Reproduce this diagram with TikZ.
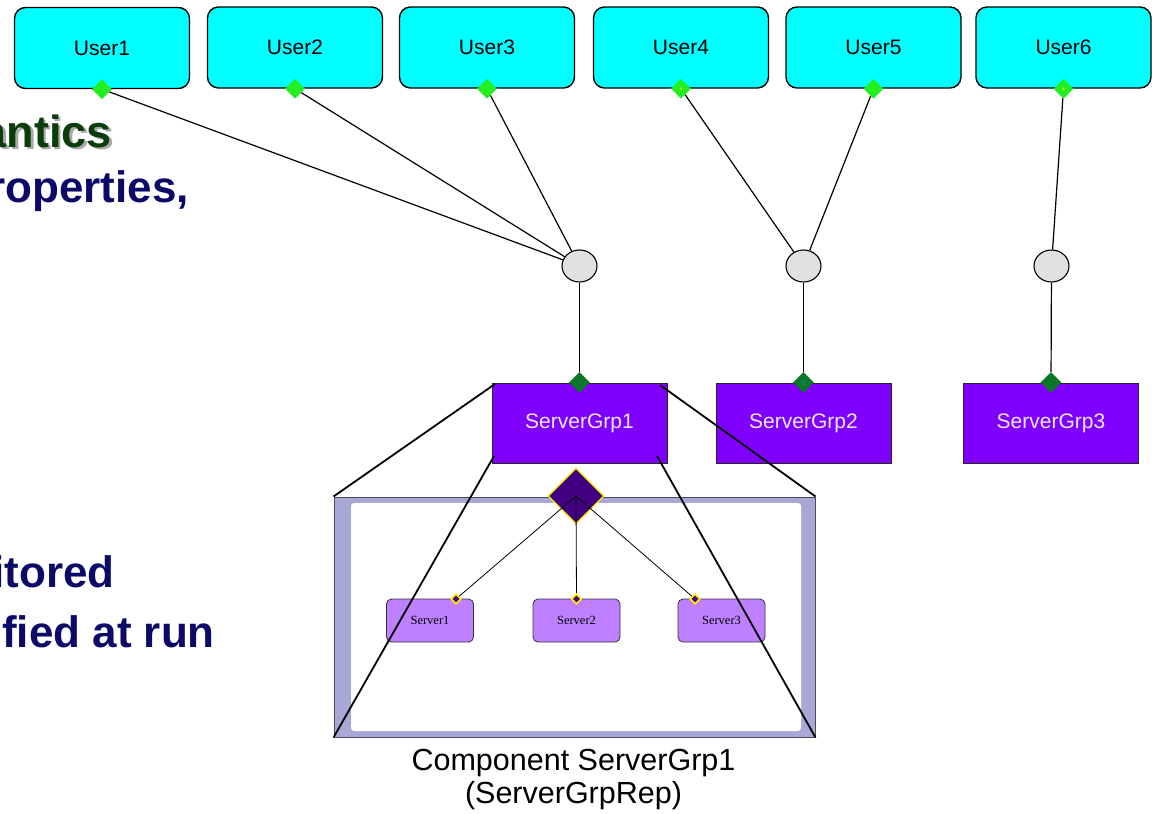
\documentclass[tikz,border=0pt]{standalone}
\usepackage{fontspec}
\setmainfont{Liberation Sans}
\newfontfamily\serverfont{Liberation Serif}
\usetikzlibrary{shapes.geometric}

\definecolor{usercyan}{HTML}{00FFFF}
\definecolor{portgreen}{HTML}{22EE22}
\definecolor{portdot}{HTML}{B8E000}
\definecolor{grpviolet}{HTML}{7F00FF}
\definecolor{grpport}{HTML}{0A7826}
\definecolor{grpportin}{HTML}{137A55}
\definecolor{grptext}{HTML}{F0E8FF}
\definecolor{conngray}{HTML}{E0E0E0}
\definecolor{framefill}{HTML}{A8A8D6}
\definecolor{framedraw}{HTML}{4A4A5A}
\definecolor{repindigo}{HTML}{400080}
\definecolor{serverlilac}{HTML}{BF80FF}
\definecolor{navytext}{HTML}{0C0A68}
\definecolor{greentext}{HTML}{0B3D0B}
\definecolor{shadowgray}{HTML}{A8A8A8}

\tikzset{
  userbox/.style={draw=black, line width=1.4pt, fill=usercyan, rounded corners=11pt,
    minimum width=175pt, minimum height=81pt, inner sep=0pt,
    font=\fontsize{21}{25}\selectfont},
  userport/.style={diamond, fill=portgreen, minimum size=20pt, inner sep=0pt},
  conn/.style={ellipse, draw=black, line width=1.1pt, fill=conngray,
    minimum width=35pt, minimum height=32pt, inner sep=0pt},
  grpbox/.style={draw=black!85, line width=1pt, fill=grpviolet, text=grptext,
    minimum width=175pt, minimum height=80pt, inner sep=0pt,
    font=\fontsize{21}{25}\selectfont},
  grpportstyle/.style={diamond, fill=grpport, minimum size=21pt, inner sep=0pt},
  wire/.style={draw=black, line width=1.2pt},
  zoomline/.style={draw=black, line width=1.8pt},
  serverbox/.style={draw=black!80, line width=0.8pt, fill=serverlilac, rounded corners=5pt,
    minimum width=87pt, minimum height=43pt, inner sep=0pt,
    font=\serverfont\fontsize{12.5}{14}\selectfont},
  serverport/.style={diamond, draw=yellow, line width=1.6pt, fill=repindigo,
    minimum size=10pt, inner sep=0pt},
  thinwire/.style={draw=black, line width=0.8pt},
  slidetext/.style={font=\bfseries\fontsize{44}{50}\selectfont, text=navytext,
    anchor=base east, inner sep=0pt},
  headfont/.style={font=\bfseries\fontsize{45}{50}\selectfont}
}

\begin{document}
\begin{tikzpicture}[x=1pt, y=-1pt]
\useasboundingbox (0,0) rectangle (1152,814);

% slide text partly hidden behind the diagram
\node[slidetext, headfont, text=shadowgray] (titleshadow) at (114.5,149.5) {antics};
\node[slidetext, headfont, text=greentext] (title) at (112,147) {antics};
\node[slidetext] (lineA) at (189,202) {roperties,};
\node[slidetext] (lineB) at (115,587) {itored};
\node[slidetext] (lineC) at (215,647) {ified at run};

% users
\node[userbox] (u1) at (102,48) {User1};
\node[userbox] (u2) at (295,47.5) {User2};
\node[userbox] (u3) at (487,47.5) {User3};
\node[userbox] (u4) at (681,47.5) {User4};
\node[userbox] (u5) at (873.5,47.5) {User5};
\node[userbox] (u6) at (1063.5,47.5) {User6};

\foreach \u in {1,...,6} {
  \node[userport] (pu\u) at (u\u.south) {};
}
\fill[portdot] (pu4.center) circle (1.6pt);
\fill[portdot] (pu6.center) circle (1.6pt);

% connectors
\node[conn] (c1) at (579.5,266) {};
\node[conn] (c2) at (803.5,266) {};
\node[conn] (c3) at (1051.5,266) {};

% server groups
\node[grpbox] (g1) at (579.5,423) {ServerGrp1};
\node[grpbox] (g2) at (803.5,423) {ServerGrp2};
\node[grpbox] (g3) at (1051,423) {ServerGrp3};
\foreach \g in {1,2,3} {
  \node[grpportstyle] (pg\g) at (g\g.north) {};
}
\fill[grpportin] (pg1.center) circle (1.8pt);
\fill[grpportin] (pg2.center) circle (3pt);

% attachments
\draw[wire] (pu1) -- (c1);
\draw[wire] (pu2) -- (c1);
\draw[wire] (pu3) -- (c1);
\draw[wire] (c1) -- (pg1);
\draw[wire] (pu4) -- (c2);
\draw[wire] (pu5) -- (c2);
\draw[wire] (c2) -- (pg2);
\draw[wire] (pu6) -- (c3);
\draw[wire] (c3) -- (pg3);

% representation of ServerGrp1
\node[draw=framedraw, line width=1pt, fill=framefill, minimum width=481pt, minimum height=240pt,
  inner sep=0pt] (frame) at (574.5,617) {};
\node[fill=white, rounded corners=3pt, minimum width=450pt, minimum height=228pt,
  inner sep=0pt] (inner) at (576,617) {};

\node[diamond, draw=yellow, line width=1.2pt, fill=repindigo, minimum size=56pt,
  inner sep=0pt] (rep) at (576,496) {};

\node[serverbox] (s1) at (430,620.5) {Server1};
\node[serverbox] (s2) at (576.5,620.5) {Server2};
\node[serverbox] (s3) at (721.5,620.5) {Server3};
\node[serverport] (ps1) at (456,599) {};
\node[serverport] (ps2) at (576.5,599) {};
\node[serverport] (ps3) at (695,599) {};

\draw[thinwire] (rep.center) -- (ps1);
\draw[thinwire] (rep.center) -- (ps2);
\draw[thinwire] (rep.center) -- (ps3);

% zoom lines from ServerGrp1 to its representation
\coordinate (zTL) at (495,384);
\coordinate (zTR) at (660,385);
\coordinate (zBL) at (494,456);
\coordinate (zBR) at (657,456);
\draw[zoomline] (zTL) -- (frame.north west);
\draw[zoomline] (zTR) -- (frame.north east);
\draw[zoomline] (zBL) -- (frame.south west);
\draw[zoomline] (zBR) -- (frame.south east);

% caption (base anchor sits on the last line)
\node[align=center, font=\fontsize{30.5}{33}\selectfont, inner sep=0pt, anchor=base] (caption)
  at (573.5,803) {Component ServerGrp1\\(ServerGrpRep)};
\end{tikzpicture}
\end{document}
